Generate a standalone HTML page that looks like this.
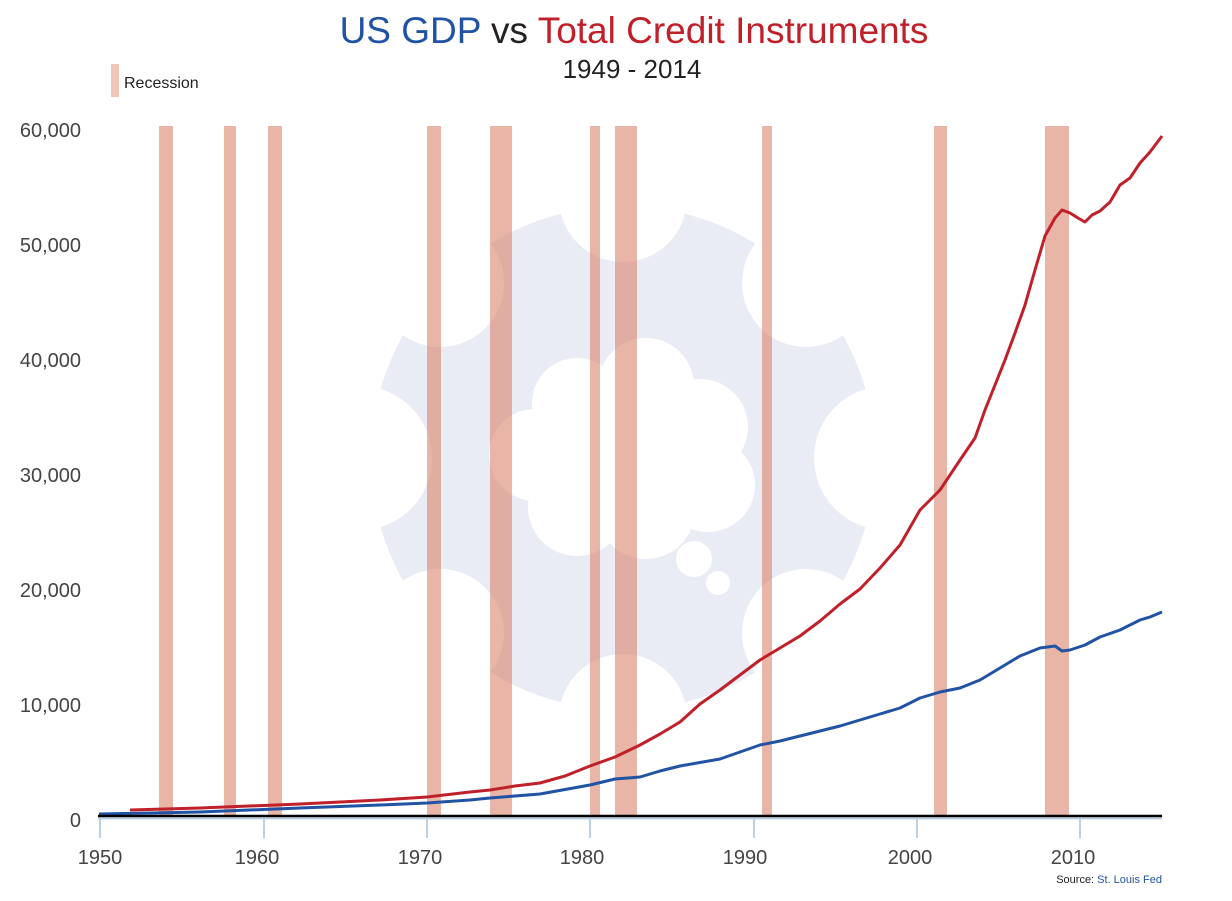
<!DOCTYPE html>
<html><head><meta charset="utf-8"><style>
html,body{margin:0;padding:0;background:#fff;}
svg{display:block;font-family:"Liberation Sans",sans-serif;}
</style></head><body>
<svg width="1232" height="901" viewBox="0 0 1232 901" xmlns="http://www.w3.org/2000/svg">
<defs><mask id="gm"><rect width="1232" height="901" fill="#fff"/>
<g fill="#000">
<circle cx="623" cy="198" r="64"/><circle cx="623" cy="718" r="64"/>
<circle cx="360" cy="458" r="72"/><circle cx="886" cy="458" r="72"/>
<circle cx="440" cy="283" r="64"/><circle cx="806" cy="283" r="64"/>
<circle cx="440" cy="633" r="64"/><circle cx="806" cy="633" r="64"/>
</g></mask></defs>
<circle cx="623" cy="458" r="252" fill="#e9ecf5" mask="url(#gm)"/>
<g fill="#fff">
<circle cx="577" cy="403" r="45"/><circle cx="646" cy="386" r="48"/><circle cx="700" cy="427" r="48"/>
<circle cx="708" cy="485" r="47"/><circle cx="646" cy="510" r="49"/><circle cx="577" cy="507" r="49"/>
<circle cx="535" cy="455" r="46"/><rect x="560" y="400" width="150" height="110"/>
<circle cx="694" cy="559" r="18"/><circle cx="718" cy="583" r="12"/>
</g>
<g fill="rgb(218,132,107)" fill-opacity="0.6">
<rect x="159" y="126" width="14" height="690"/>
<rect x="224" y="126" width="12" height="690"/>
<rect x="268" y="126" width="14" height="690"/>
<rect x="427" y="126" width="14" height="690"/>
<rect x="490" y="126" width="22" height="690"/>
<rect x="590" y="126" width="10" height="690"/>
<rect x="615" y="126" width="22" height="690"/>
<rect x="762" y="126" width="10" height="690"/>
<rect x="934" y="126" width="13" height="690"/>
<rect x="1045" y="126" width="24" height="690"/>
</g>
<polyline fill="none" stroke="#c0202a" stroke-width="3" stroke-linejoin="round" points="130,810 200,808 300,804 380,800 427,797 470,792 490,790 515,786 540,783 565,776 590,766 615,757 640,745 660,734 680,722 700,704 720,690 740,675 760,660 780,648 800,636 820,621 840,604 860,589 880,568 900,545 920,510 940,490 960,460 975,438 985,410 995,385 1005,360 1015,333 1025,305 1035,270 1045,236 1055,218 1062,210 1070,213 1078,218 1085,222 1092,215 1100,211 1110,202 1120,185 1130,178 1140,163 1150,152 1162,136"/>
<polyline fill="none" stroke="#2153a5" stroke-width="3" stroke-linejoin="round" points="99,814 200,812 300,808 380,805 427,803 470,800 490,798 540,794 590,785 615,779 640,777 660,771 680,766 720,759 740,752 760,745 780,741 800,736 820,731 840,726 860,720 880,714 900,708 920,698 940,692 960,688 980,680 1000,668 1020,656 1040,648 1055,646 1062,651 1070,650 1085,645 1100,637 1120,630 1140,620 1150,617 1162,612"/>
<line x1="98" y1="818.5" x2="1162" y2="818.5" stroke="#bcd0e2" stroke-width="2"/>
<line x1="98" y1="816" x2="1162" y2="816" stroke="#000" stroke-width="2.5"/>
<g stroke="#bcd0e2" stroke-width="2">
<line x1="100" y1="818" x2="100" y2="838"/><line x1="264" y1="818" x2="264" y2="838"/>
<line x1="427" y1="818" x2="427" y2="838"/><line x1="590" y1="818" x2="590" y2="838"/>
<line x1="754" y1="818" x2="754" y2="838"/><line x1="917" y1="818" x2="917" y2="838"/>
<line x1="1080" y1="818" x2="1080" y2="838"/>
</g>
<g font-size="20" fill="#444" text-anchor="middle">
<text x="100" y="864">1950</text><text x="257" y="864">1960</text><text x="420" y="864">1970</text>
<text x="582" y="864">1980</text><text x="745" y="864">1990</text><text x="910" y="864">2000</text><text x="1073" y="864">2010</text>
</g>
<g font-size="20" fill="#444" text-anchor="end">
<text x="81" y="137">60,000</text><text x="81" y="252">50,000</text><text x="81" y="367">40,000</text>
<text x="81" y="482">30,000</text><text x="81" y="597">20,000</text><text x="81" y="712">10,000</text><text x="81" y="827">0</text>
</g>
<text x="1162" y="883" font-size="11" text-anchor="end" fill="#222">Source: <tspan fill="#2153a5">St. Louis Fed</tspan></text>
<text x="634" y="43" font-size="37" text-anchor="middle"><tspan fill="#2153a5">US GDP</tspan><tspan fill="#222"> vs </tspan><tspan fill="#c0202a">Total Credit Instruments</tspan></text>
<text x="632" y="78" font-size="26" text-anchor="middle" fill="#222">1949 - 2014</text>
<rect x="111" y="64" width="8" height="33" fill="#eec5b8"/>
<text x="124" y="88" font-size="16" fill="#222">Recession</text>
</svg>
</body></html>
